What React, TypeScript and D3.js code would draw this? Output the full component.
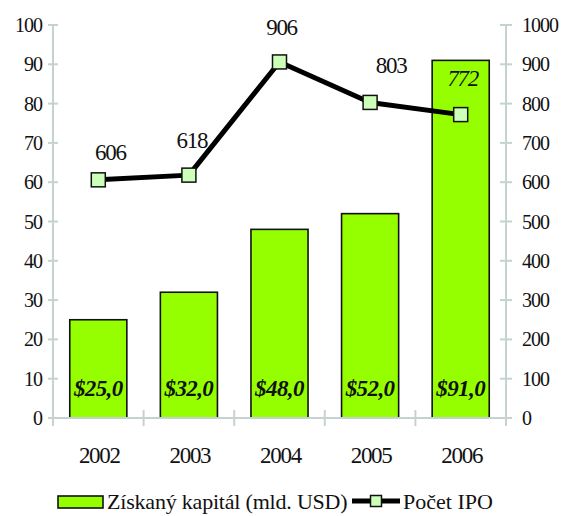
import React from "react";
import * as d3 from "d3";

const years = ["2002", "2003", "2004", "2005", "2006"];
const capital = [25, 32, 48, 52, 91];
const capitalLabels = ["$25,0", "$32,0", "$48,0", "$52,0", "$91,0"];
const ipoCount = [606, 618, 906, 803, 772];
const leftTicks = [0, 10, 20, 30, 40, 50, 60, 70, 80, 90, 100];
const rightTicks = [0, 100, 200, 300, 400, 500, 600, 700, 800, 900, 1000];
const legendBar = "Získaný kapitál (mld. USD)";
const legendLine = "Počet IPO";

// layout (not data)
const W = 561, H = 516;
const X0 = 53, X1 = 506, Y0 = 418, Y1 = 25;
const labelOffsets = [
  { dx: 12, dy: -20, italic: false },
  { dx: 3, dy: -27, italic: false },
  { dx: 2, dy: -27, italic: false },
  { dx: 21, dy: -29, italic: false },
  { dx: 2, dy: -29, italic: true },
];

const FONT = "Liberation Serif";
const AXIS = "#c5d2d2";
const BAR = "#95ff00";
const MARK = "#ccffb8";

export default function App() {
  const x = d3.scaleBand<string>().domain(years).range([X0, X1]).padding(0);
  const yL = d3.scaleLinear().domain([0, 100]).range([Y0, Y1]);
  const yR = d3.scaleLinear().domain([0, 1000]).range([Y0, Y1]);
  const bw = x.bandwidth() * 0.63;
  const cx = (d: string) => (x(d) as number) + x.bandwidth() / 2;
  const line = d3
    .line<number>()
    .x((_, i) => cx(years[i]))
    .y((v) => yR(v));
  const tf = { fontFamily: FONT };

  return (
    <svg
      width={W}
      height={H}
      style={{ position: "absolute", left: 0, top: 0, background: "#fff" }}
    >
      {/* bars */}
      {capital.map((v, i) => (
        <rect
          key={"b" + i}
          x={cx(years[i]) - bw / 2}
          y={yL(v)}
          width={bw}
          height={Y0 - yL(v)}
          fill={BAR}
          stroke="#111"
          strokeWidth={1.6}
        />
      ))}
      {capitalLabels.map((t, i) => (
        <text
          key={"bl" + i}
          x={cx(years[i])}
          y={Y0 - 22}
          textAnchor="middle"
          fontSize={23}
          fontWeight="bold"
          fontStyle="italic"
          letterSpacing={-0.6}
          fill="#111"
          style={tf}
        >
          {t}
        </text>
      ))}
      {/* axes */}
      <g stroke={AXIS} strokeWidth={2} fill="none">
        <line x1={X0} x2={X0} y1={Y1} y2={Y0 + 8} />
        <line x1={X1} x2={X1} y1={Y1} y2={Y0 + 8} />
        <line x1={X0 - 5} x2={X1 + 5} y1={Y0} y2={Y0} />
        {leftTicks.map((t) => (
          <line key={"lt" + t} x1={X0 - 5} x2={X0 + 5} y1={yL(t)} y2={yL(t)} />
        ))}
        {rightTicks.map((t) => (
          <line key={"rt" + t} x1={X1 - 6} x2={X1 + 6} y1={yR(t)} y2={yR(t)} />
        ))}
        {years.slice(1).map((d) => (
          <line key={"xt" + d} x1={x(d)} x2={x(d)} y1={Y0 - 8} y2={Y0 + 8} />
        ))}
      </g>
      {leftTicks.map((t) => (
        <text
          key={"ll" + t}
          x={42}
          y={yL(t) + 7}
          textAnchor="end"
          fontSize={20}
          letterSpacing={-1}
          fill="#111"
          style={tf}
        >
          {t}
        </text>
      ))}
      {rightTicks.map((t) => (
        <text
          key={"rl" + t}
          x={522}
          y={yR(t) + 7}
          textAnchor="start"
          fontSize={20}
          letterSpacing={-1}
          fill="#111"
          style={tf}
        >
          {t}
        </text>
      ))}
      {years.map((d) => (
        <text
          key={"xl" + d}
          x={cx(d) + 1}
          y={463}
          textAnchor="middle"
          fontSize={23}
          letterSpacing={-1.3}
          fill="#111"
          style={tf}
        >
          {d}
        </text>
      ))}
      {/* line */}
      <path d={line(ipoCount) || ""} fill="none" stroke="#000" strokeWidth={5} strokeLinejoin="round" />
      {ipoCount.map((v, i) => (
        <rect
          key={"m" + i}
          x={cx(years[i]) - 7}
          y={yR(v) - 7}
          width={14}
          height={14}
          fill={MARK}
          stroke="#111"
          strokeWidth={1.5}
        />
      ))}
      {ipoCount.map((v, i) => (
        <text
          key={"ml" + i}
          x={cx(years[i]) + labelOffsets[i].dx}
          y={yR(v) + labelOffsets[i].dy}
          textAnchor="middle"
          fontSize={23}
          letterSpacing={-1.3}
          fontStyle={labelOffsets[i].italic ? "italic" : "normal"}
          fill="#111"
          style={tf}
        >
          {v}
        </text>
      ))}
      {/* legend */}
      <rect x={58} y={496} width={45} height={12} fill={BAR} stroke="#111" strokeWidth={1.6} />
      <text x={107} y={509} fontSize={22} letterSpacing={-0.2} fill="#111" style={tf}>
        {legendBar}
      </text>
      <line x1={352} x2={400} y1={501} y2={501} stroke="#000" strokeWidth={5} />
      <rect x={370.5} y={495.5} width={11} height={11} fill={MARK} stroke="#111" strokeWidth={1.5} />
      <text x={403} y={509} fontSize={22} letterSpacing={0} fill="#111" style={tf}>
        {legendLine}
      </text>
    </svg>
  );
}
